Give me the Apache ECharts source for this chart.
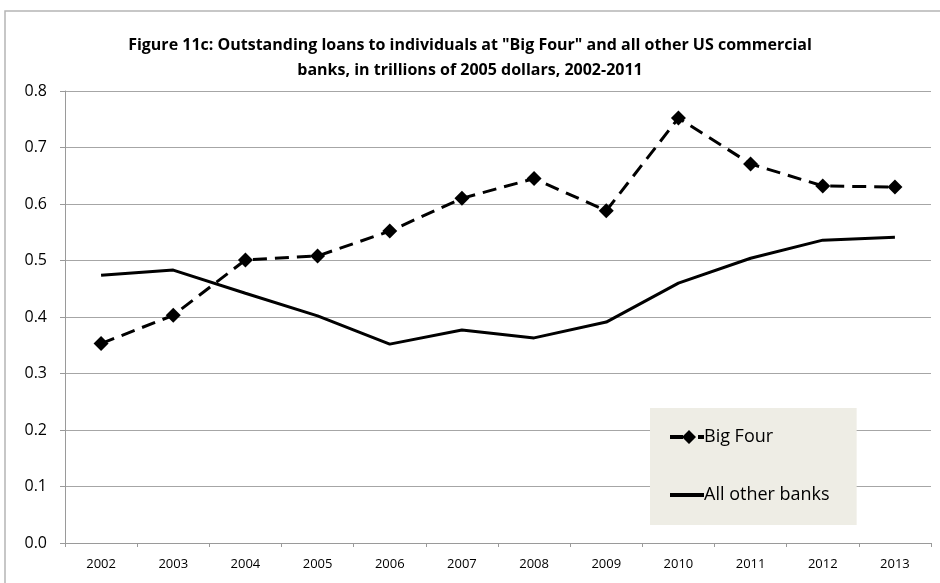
<!DOCTYPE html>
<html>
<head>
<meta charset="utf-8">
<script src="https://cdn.jsdelivr.net/npm/echarts@6/dist/echarts.min.js"></script>
<style>
html,body{margin:0;padding:0;background:#fff;}
#mychart{width:940px;height:583px;}
</style>
</head>
<body>
<div id="mychart"></div>
<script>
var years = ['2002','2003','2004','2005','2006','2007','2008','2009','2010','2011','2012','2013'];
var bigFour = [0.353, 0.403, 0.501, 0.508, 0.552, 0.610, 0.645, 0.588, 0.752, 0.671, 0.632, 0.630];
var allOther = [0.474, 0.483, 0.442, 0.402, 0.352, 0.377, 0.363, 0.391, 0.460, 0.504, 0.536, 0.541];
var titleText = 'Figure 11c: Outstanding loans to individuals at "Big Four" and all other US commercial\nbanks, in trillions of 2005 dollars, 2002-2011';

var myChart = echarts.init(document.getElementById('mychart'));
var font = '"Open Sans", "Noto Sans", sans-serif';

// legend glyphs: dash + diamond + dash, and a plain thick line
var iconBig = 'path://M0,9 H13 V13 H0 Z M19,4 L26,11 L19,18 L12,11 Z M28,9 H34 V13 H28 Z';
var iconOther = 'path://M0,0 H34 V4 H0 Z';

var option = {
    backgroundColor: '#ffffff',
    animation: false,
    textStyle: { fontFamily: font },
    title: {
        text: titleText,
        left: 'center',
        top: 28,
        textStyle: {
            fontFamily: font,
            fontSize: 16,
            fontWeight: 'bold',
            color: '#000',
            lineHeight: 25
        }
    },
    graphic: [{
        type: 'rect',
        shape: { x: 5, y: 11, width: 1000, height: 1000 },
        style: { fill: 'none', stroke: '#b5b5b5', lineWidth: 1.5 },
        z: -1
    }],
    grid: {
        left: 65,
        right: 9,
        top: 91,
        bottom: 40
    },
    legend: {
        orient: 'vertical',
        left: 650,
        top: 408,
        padding: [20, 27, 21, 20],
        itemGap: 40,
        itemWidth: 34,
        itemHeight: 20,
        backgroundColor: '#eeede5',
        textStyle: { fontSize: 18, color: '#000', fontFamily: font, padding: [0, 0, 0, -5] },
        data: [
            { name: 'Big Four', icon: iconBig },
            { name: 'All other banks', icon: iconOther, itemStyle: { color: '#000' } }
        ]
    },
    xAxis: {
        type: 'category',
        data: years,
        boundaryGap: true,
        axisLine: { lineStyle: { color: '#9a9a9a', width: 1 } },
        axisTick: { show: true, length: 4, lineStyle: { color: '#9a9a9a' } },
        axisLabel: { color: '#000', fontSize: 13, margin: 15 },
        splitLine: { show: false }
    },
    yAxis: {
        type: 'value',
        min: 0,
        max: 0.8,
        interval: 0.1,
        axisLine: { show: true, lineStyle: { color: '#9a9a9a', width: 1 } },
        axisTick: { show: true, length: 5, lineStyle: { color: '#9a9a9a' } },
        axisLabel: {
            color: '#000',
            fontSize: 16,
            margin: 18,
            formatter: function (v) { return v.toFixed(1); }
        },
        splitLine: { lineStyle: { color: '#a6a6a6', width: 1 } }
    },
    series: [
        {
            name: 'Big Four',
            type: 'line',
            data: bigFour,
            symbol: 'diamond',
            symbolSize: 15,
            itemStyle: { color: '#000' },
            lineStyle: { color: '#000', width: 3, type: [14, 8] },
            z: 3
        },
        {
            name: 'All other banks',
            type: 'line',
            data: allOther,
            showSymbol: false,
            symbol: 'none',
            itemStyle: { color: '#000' },
            lineStyle: { color: '#000', width: 3 },
            z: 2
        }
    ]
};

if (option && typeof option === "object") {
    myChart.setOption(option, true);
}
</script>
</body>
</html>
